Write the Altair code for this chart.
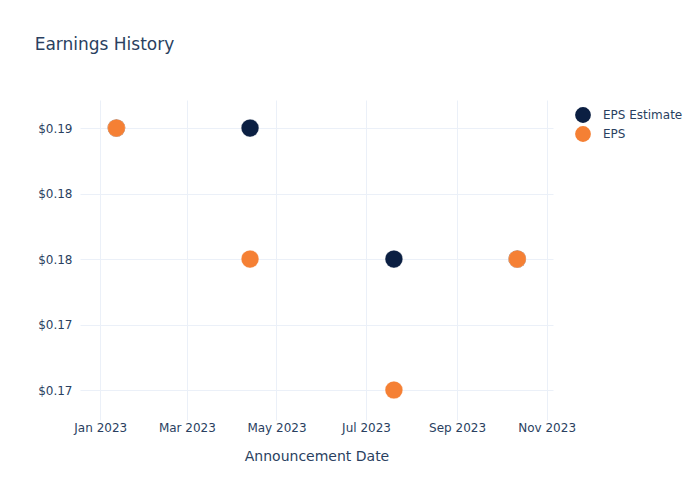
import altair as alt
import pandas as pd

dates = ["2023-01-12", "2023-04-13", "2023-07-20", "2023-10-12"]
eps_estimate = [0.19, 0.19, 0.18, 0.18]
eps_actual = [0.19, 0.18, 0.17, 0.18]
series_names = ["EPS Estimate", "EPS"]
series_colors = ["#0b1f42", "#f58034"]
y_ticks = [0.17, 0.175, 0.18, 0.185, 0.19]
x_ticks = ["2023-01-01", "2023-03-01", "2023-05-01", "2023-07-01", "2023-09-01", "2023-11-01"]

rows = []
for d, v in zip(dates, eps_estimate):
    rows.append({"date": d, "value": v, "series": series_names[0], "order": 0})
for d, v in zip(dates, eps_actual):
    rows.append({"date": d, "value": v, "series": series_names[1], "order": 1})
df = pd.DataFrame(rows)

FONT = "DejaVu Sans"
TXT = "#2a3f5f"
GRID = "#ebf0f8"

x_values = [
    alt.DateTime(year=int(s[:4]), month=int(s[5:7]), date=int(s[8:10])) for s in x_ticks
]

chart = (
    alt.Chart(df)
    .mark_circle(opacity=1, size=314, stroke="#ffffff", strokeWidth=0.3)
    .encode(
        x=alt.X(
            "date:T",
            title="Announcement Date",
            scale=alt.Scale(
                domain=[
                    alt.DateTime(year=2022, month=12, date=18, hours=5),
                    alt.DateTime(year=2023, month=11, date=5, hours=8),
                ]
            ),
            axis=alt.Axis(
                values=x_values,
                format="%b %Y",
                labelFont=FONT,
                labelFontSize=12,
                labelColor=TXT,
                labelPadding=2,
                titleFont=FONT,
                titleFontSize=14,
                titleColor=TXT,
                titleFontWeight="normal",
                titlePadding=16,
                grid=True,
                gridColor=GRID,
                gridWidth=1,
                domain=False,
                ticks=False,
            ),
        ),
        y=alt.Y(
            "value:Q",
            title=None,
            scale=alt.Scale(domain=[0.16771, 0.19214], nice=False, zero=False),
            axis=alt.Axis(
                values=y_ticks,
                format="$.2f",
                labelFont=FONT,
                labelFontSize=12,
                labelColor=TXT,
                labelPadding=8,
                grid=True,
                gridColor=GRID,
                gridWidth=1,
                domain=False,
                ticks=False,
            ),
        ),
        color=alt.Color(
            "series:N",
            scale=alt.Scale(domain=series_names, range=series_colors),
            sort=series_names,
            legend=alt.Legend(
                title=None,
                orient="none",
                legendX=495,
                legendY=7,
                symbolType="circle",
                symbolSize=250,
                symbolStrokeWidth=0,
                labelFont=FONT,
                labelFontSize=12,
                labelColor=TXT,
                rowPadding=3,
                labelOffset=12,
            ),
        ),
        order=alt.Order("order:Q"),
    )
    .properties(
        width=473,
        height=320,
        autosize=alt.AutoSizeParams(type="none"),
        padding={"left": 80, "top": 100, "right": 147, "bottom": 80},
        title=alt.TitleParams(
            "Earnings History",
            anchor="start",
            font=FONT,
            fontSize=17,
            fontWeight="normal",
            color=TXT,
            dx=-3,
            offset=46,
        ),
    )
    .configure(background="white", view=alt.ViewConfig(strokeWidth=0, stroke="transparent"))
)

chart.save("out.html", embed_options={"renderer": "svg", "actions": False})
